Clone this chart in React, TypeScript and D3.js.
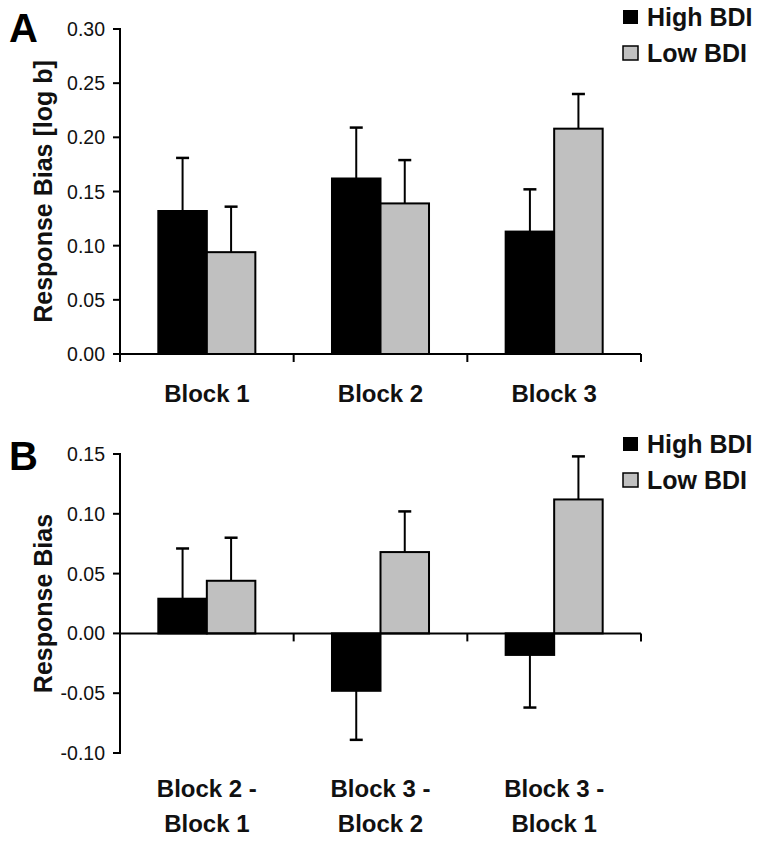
import React, { useEffect, useRef } from "react";
import * as d3 from "d3";

const W = 763;
const H = 842;
const font = "'Liberation Sans', Arial, sans-serif";

const series = ["High BDI", "Low BDI"];
const colors = ["#000000", "#c0c0c0"];

// panel A
const catsA = [["Block 1"], ["Block 2"], ["Block 3"]];
const highA = [0.132, 0.162, 0.113];
const highAErr = [0.049, 0.047, 0.039];
const lowA = [0.094, 0.139, 0.208];
const lowAErr = [0.042, 0.04, 0.032];
const ticksA = [0, 0.05, 0.1, 0.15, 0.2, 0.25, 0.3];

// panel B
const catsB = [
  ["Block 2 -", "Block 1"],
  ["Block 3 -", "Block 2"],
  ["Block 3 -", "Block 1"],
];
const highB = [0.029, -0.048, -0.018];
const highBErr = [0.042, 0.041, 0.044];
const lowB = [0.044, 0.068, 0.112];
const lowBErr = [0.036, 0.034, 0.036];
const ticksB = [-0.1, -0.05, 0, 0.05, 0.1, 0.15];

const drawPanel = (svg, opt) => {
  const { letter, cats, values, errs, ticks, yRange, title, legendY, labelY } = opt;
  const left = 120;
  const right = 641;

  const y = d3
    .scaleLinear()
    .domain([ticks[0], ticks[ticks.length - 1]])
    .range(yRange);

  const keys = cats.map((c) => c.join(" "));
  const x0 = d3.scaleBand().domain(keys).range([left, right]);
  const x1 = d3
    .scaleBand()
    .domain(series)
    .range([0, x0.bandwidth()])
    .paddingOuter(0.79);

  const g = svg.append("g");
  const zero = y(0);

  // bars
  series.forEach((s, si) => {
    keys.forEach((k, i) => {
      const v = values[si][i];
      const bx = x0(k) + x1(s);
      const top = Math.min(y(v), zero);
      const h = Math.abs(y(v) - zero);
      const cx = bx + x1.bandwidth() / 2;
      const ev = v + Math.sign(v) * errs[si][i];

      // error bar (one-sided)
      g.append("line")
        .attr("x1", cx)
        .attr("x2", cx)
        .attr("y1", y(v))
        .attr("y2", y(ev))
        .attr("stroke", "#000")
        .attr("stroke-width", 2);
      g.append("line")
        .attr("x1", cx - 6.5)
        .attr("x2", cx + 6.5)
        .attr("y1", y(ev))
        .attr("y2", y(ev))
        .attr("stroke", "#000")
        .attr("stroke-width", 2.5);

      g.append("rect")
        .attr("x", bx)
        .attr("y", top)
        .attr("width", x1.bandwidth())
        .attr("height", h)
        .attr("fill", colors[si])
        .attr("stroke", "#000")
        .attr("stroke-width", 2);
    });
  });

  // y axis
  g.append("line")
    .attr("x1", left)
    .attr("x2", left)
    .attr("y1", y(ticks[ticks.length - 1]) - 1)
    .attr("y2", ticks[0] === 0 ? zero + 8 : y(ticks[0]) + 1)
    .attr("stroke", "#000")
    .attr("stroke-width", 2);

  ticks.forEach((t) => {
    g.append("line")
      .attr("x1", left - 7)
      .attr("x2", left)
      .attr("y1", y(t))
      .attr("y2", y(t))
      .attr("stroke", "#000")
      .attr("stroke-width", 2);
    g.append("text")
      .attr("x", 105)
      .attr("y", y(t))
      .attr("dy", "0.36em")
      .attr("text-anchor", "end")
      .attr("font-family", font)
      .attr("font-size", 19.5)
      .attr("fill", "#111")
      .text(t.toFixed(2));
  });

  // x axis at zero
  g.append("line")
    .attr("x1", left)
    .attr("x2", right)
    .attr("y1", zero)
    .attr("y2", zero)
    .attr("stroke", "#000")
    .attr("stroke-width", 2);

  keys.forEach((k, i) => {
    const tx = x0(k) + x0.bandwidth();
    g.append("line")
      .attr("x1", tx)
      .attr("x2", tx)
      .attr("y1", zero)
      .attr("y2", zero + 8)
      .attr("stroke", "#000")
      .attr("stroke-width", 2);

    const lbl = g
      .append("text")
      .attr("text-anchor", "middle")
      .attr("font-family", font)
      .attr("font-weight", "bold")
      .attr("font-size", 24)
      .attr("fill", "#111");
    cats[i].forEach((line, li) => {
      lbl
        .append("tspan")
        .attr("x", x0(k) + x0.bandwidth() / 2)
        .attr("y", labelY + li * 35)
        .text(line);
    });
  });

  // y title
  g.append("text")
    .attr(
      "transform",
      `translate(52, ${(yRange[0] + yRange[1]) / 2}) rotate(-90)`
    )
    .attr("text-anchor", "middle")
    .attr("font-family", font)
    .attr("font-weight", "bold")
    .attr("font-size", 25)
    .attr("fill", "#111")
    .text(title);

  // panel letter
  g.append("text")
    .attr("x", 9)
    .attr("y", opt.letterY)
    .attr("font-family", font)
    .attr("font-weight", "bold")
    .attr("font-size", 40)
    .attr("fill", "#000")
    .text(letter);

  // legend
  series.forEach((s, si) => {
    const ly = legendY + si * 36;
    g.append("rect")
      .attr("x", 623)
      .attr("y", ly - 16)
      .attr("width", 15)
      .attr("height", 14)
      .attr("fill", colors[si])
      .attr("stroke", "#000")
      .attr("stroke-width", si === 0 ? 0 : 1.5);
    g.append("text")
      .attr("x", 647)
      .attr("y", ly)
      .attr("font-family", font)
      .attr("font-weight", "bold")
      .attr("font-size", 25)
      .attr("fill", "#111")
      .text(s);
  });
};

const App = () => {
  const ref = useRef(null);

  useEffect(() => {
    const svg = d3.select(ref.current);
    svg.selectAll("*").remove();

    drawPanel(svg, {
      letter: "A",
      letterY: 42,
      cats: catsA,
      values: [highA, lowA],
      errs: [highAErr, lowAErr],
      ticks: ticksA,
      yRange: [354, 29],
      title: "Response Bias [log b]",
      legendY: 26,
      labelY: 402,
    });

    drawPanel(svg, {
      letter: "B",
      letterY: 470,
      cats: catsB,
      values: [highB, lowB],
      errs: [highBErr, lowBErr],
      ticks: ticksB,
      yRange: [753, 454],
      title: "Response Bias",
      legendY: 453,
      labelY: 797,
    });
  }, []);

  return (
    <svg
      ref={ref}
      width={W}
      height={H}
      style={{ position: "absolute", left: 0, top: 0, background: "#fff" }}
    />
  );
};

export default App;
